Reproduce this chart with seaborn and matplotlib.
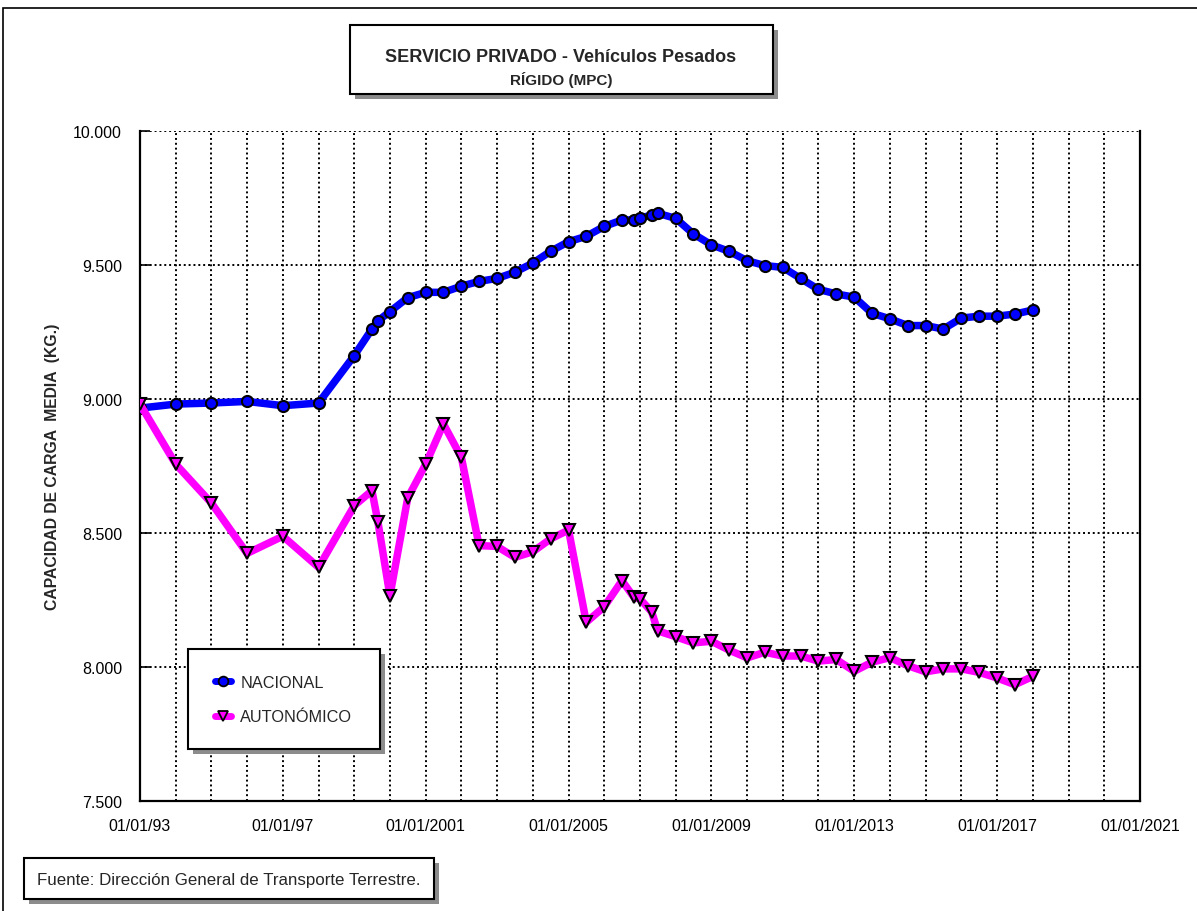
import matplotlib
matplotlib.use("Agg")
import matplotlib.pyplot as plt
import matplotlib.dates as mdates
from matplotlib.patches import Rectangle
from matplotlib.lines import Line2D
import pandas as pd
import seaborn as sns

# --- data -----------------------------------------------------------------
fechas = [
    "1993-01-01", "1994-01-01", "1995-01-01", "1996-01-01", "1997-01-01",
    "1998-01-01", "1999-01-01", "1999-07-01", "1999-09-01", "2000-01-01",
    "2000-07-01", "2001-01-01", "2001-07-01", "2002-01-01", "2002-07-01",
    "2003-01-01", "2003-07-01", "2004-01-01", "2004-07-01", "2005-01-01",
    "2005-07-01", "2006-01-01", "2006-07-01", "2006-11-01", "2007-01-01",
    "2007-05-01", "2007-07-01", "2008-01-01", "2008-07-01", "2009-01-01",
    "2009-07-01", "2010-01-01", "2010-07-01", "2011-01-01", "2011-07-01",
    "2012-01-01", "2012-07-01", "2013-01-01", "2013-07-01", "2014-01-01",
    "2014-07-01", "2015-01-01", "2015-07-01", "2016-01-01", "2016-07-01",
    "2017-01-01", "2017-07-01", "2018-01-01",
]

nacional = [
    8966, 8981, 8985, 8991, 8975, 8985, 9162, 9261, 9292, 9326,
    9378, 9398, 9398, 9421, 9439, 9450, 9473, 9507, 9551, 9587,
    9607, 9644, 9668, 9668, 9674, 9687, 9693, 9674, 9616, 9575,
    9551, 9516, 9498, 9491, 9450, 9409, 9392, 9380, 9320, 9299,
    9274, 9274, 9261, 9302, 9309, 9309, 9317, 9332,
]

autonomico = [
    8981, 8757, 8612, 8424, 8488, 8372, 8602, 8658, 8540, 8266,
    8631, 8757, 8907, 8782, 8453, 8450, 8409, 8430, 8478, 8511,
    8167, 8225, 8322, 8260, 8254, 8206, 8135, 8113, 8090, 8096,
    8063, 8034, 8055, 8041, 8041, 8022, 8028, 7984, 8018, 8035,
    8005, 7982, 7993, 7993, 7980, 7959, 7934, 7965,
]

series = ["NACIONAL", "AUTONÓMICO"]
colores = ["#0000FF", "#FF00FF"]
marcadores = ["o", "v"]

x_ticks = ["1993-01-01", "1997-01-01", "2001-01-01", "2005-01-01",
           "2009-01-01", "2013-01-01", "2017-01-01", "2021-01-01"]
x_tick_labels = ["01/01/93", "01/01/97", "01/01/2001", "01/01/2005",
                 "01/01/2009", "01/01/2013", "01/01/2017", "01/01/2021"]
y_ticks = [7500, 8000, 8500, 9000, 9500, 10000]
y_tick_labels = ["7.500", "8.000", "8.500", "9.000", "9.500", "10.000"]

titulo = "SERVICIO PRIVADO - Vehículos Pesados"
subtitulo = "RÍGIDO (MPC)"
etiqueta_y = "CAPACIDAD DE CARGA  MEDIA  (KG.)"
fuente = "Fuente: Dirección General de Transporte Terrestre."

# --- style ----------------------------------------------------------------
sns.set_style("white")
plt.rcParams["font.family"] = ["Liberation Sans", "DejaVu Sans"]

W, H = 1197, 912
fig = plt.figure(figsize=(W / 100, H / 100), dpi=100)
fig.patch.set_facecolor("white")


def px_box(x0, y0, x1, y1, shadow=5, lw=1.5):
    """Framed box with a grey drop shadow, given in pixel coords from top-left."""
    fig.add_artist(Rectangle(((x0 + shadow) / W, 1 - (y1 + shadow) / H),
                             (x1 - x0) / W, (y1 - y0) / H,
                             transform=fig.transFigure, facecolor="#8c8c8c",
                             edgecolor="none", zorder=1))
    fig.add_artist(Rectangle((x0 / W, 1 - y1 / H), (x1 - x0) / W, (y1 - y0) / H,
                             transform=fig.transFigure, facecolor="white",
                             edgecolor="black", linewidth=lw, zorder=2))


# outer frame
fig.add_artist(Rectangle((3 / W, -0.05), 1.2, 1 - 9 / H + 0.05,
                         transform=fig.transFigure, facecolor="none",
                         edgecolor="black", linewidth=1.2, zorder=0))

ax = fig.add_axes([140 / W, 110 / H, 1000 / W, 670 / H])
ax.set_facecolor("white")

df = pd.DataFrame({
    "fecha": pd.to_datetime(fechas * 2),
    "valor": nacional + autonomico,
    "serie": [series[0]] * len(fechas) + [series[1]] * len(fechas),
})

for nombre, color, marca, ms in zip(series, colores, marcadores, [8, 8.5]):
    sub = df[df["serie"] == nombre]
    sns.lineplot(data=sub, x="fecha", y="valor", ax=ax, color=color,
                 linewidth=5.4, marker=marca, markersize=ms,
                 markerfacecolor=color, markeredgecolor="black",
                 markeredgewidth=1.5, legend=False, zorder=3,
                 solid_joinstyle="round", solid_capstyle="butt")

# axes limits and ticks
ax.set_xlim(pd.Timestamp("1993-01-01"), pd.Timestamp("2021-01-01"))
ax.set_ylim(7500, 10000)
ax.set_xticks(pd.to_datetime(x_ticks))
ax.set_xticklabels(x_tick_labels)
ax.xaxis.set_minor_locator(mdates.YearLocator(1))
ax.set_yticks(y_ticks)
ax.set_yticklabels(y_tick_labels)
ax.tick_params(axis="x", which="major", direction="in", length=5, width=1.2,
               labelsize=11.5, pad=12, colors="black")
ax.tick_params(axis="x", which="minor", length=0)
ax.tick_params(axis="y", which="major", direction="in", length=7, width=1.2,
               labelsize=11.5, pad=13, colors="black", left=True)
ax.set_xlabel("")
ax.set_ylabel("")

dots = (0, (1, 1.5))
ax.grid(True, axis="x", which="both", color="black", linestyle=dots, linewidth=1.4)
ax.grid(True, axis="y", which="major", color="black", linestyle=dots, linewidth=1.4)
ax.set_axisbelow(True)

for lado in ["left", "bottom", "right"]:
    ax.spines[lado].set_visible(True)
    ax.spines[lado].set_color("black")
    ax.spines[lado].set_linewidth(1.6)
ax.spines["top"].set_visible(False)

# title box
px_box(350, 26, 773, 95)
fig.text(561 / W, 1 - 61.5 / H, titulo, ha="center", va="baseline",
         fontsize=13, fontweight="bold", zorder=3)
fig.text(561 / W, 1 - 85 / H, subtitulo, ha="center", va="baseline",
         fontsize=11, fontweight="bold", zorder=3)

# y-axis title
fig.text(53 / W, 1 - 467 / H, etiqueta_y, rotation=90, ha="center",
         va="center", fontsize=11.3, fontweight="bold")

# legend box
px_box(188, 650, 380, 750)
handles = [Line2D([], [], color=c, linewidth=5, marker=m, markersize=7,
                  markerfacecolor=c, markeredgecolor="black",
                  markeredgewidth=1.3)
           for c, m in zip(colores, marcadores)]
leg = fig.legend(handles, series, loc="center left",
                 bbox_to_anchor=(215 / W, 1 - 700.5 / H), frameon=False,
                 fontsize=11.7, handlelength=1.0, handletextpad=0.55,
                 labelspacing=1.2, borderpad=0, borderaxespad=0)
leg.set_zorder(5)

# source box
px_box(24, 859, 434, 900)
fig.text(37 / W, 1 - 885 / H, fuente, ha="left", va="baseline",
         fontsize=12.2, zorder=3)

fig.savefig("out.png", dpi=100, facecolor="white")
